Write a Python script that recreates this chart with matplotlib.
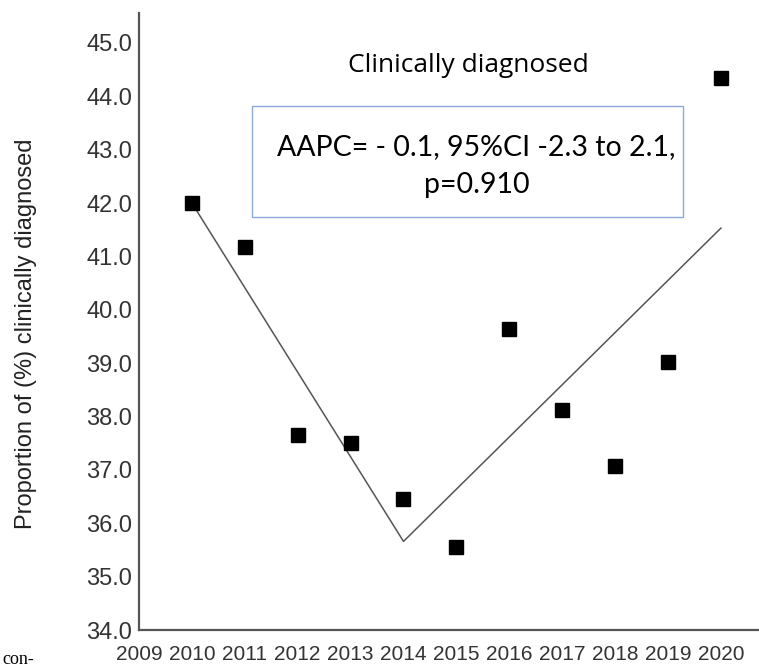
import matplotlib
matplotlib.use('Agg')
import matplotlib.pyplot as plt
from matplotlib.patches import Rectangle

# observed proportions (%) by year
years = [2010, 2011, 2012, 2013, 2014, 2015, 2016, 2017, 2018, 2019, 2020]
observed = [42.0, 41.18, 37.66, 37.5, 36.45, 35.55, 39.64, 38.13, 37.08, 39.03, 44.34]

# joinpoint model fit
fit_years = [2010, 2014, 2020]
fit_values = [42.0, 35.66, 41.53]

xticks = list(range(2009, 2021))
yticks = [34 + i for i in range(12)]

fig = plt.figure(figsize=(7.59, 6.71), dpi=100)
ax = fig.add_axes([0.1831, 0.0611, 0.8169, 0.9195])

ax.plot(fit_years, fit_values, color='#555555', linewidth=1.1)
ax.plot(years, observed, linestyle='none', marker='s', markersize=10, color='black')

ax.set_xlim(2009, 2020.72)
ax.set_ylim(34, 45.56)
ax.set_xticks(xticks)
ax.set_xticklabels([str(x) for x in xticks], fontsize=15, family='Liberation Sans', color='#333333')
ax.set_yticks(yticks)
ax.set_yticklabels(['%.1f' % y for y in yticks], fontsize=17, family='Liberation Sans', color='#333333')
ax.tick_params(axis='both', length=0)
ax.tick_params(axis='x', pad=11)
ax.tick_params(axis='y', pad=5)

for side in ['top', 'right']:
    ax.spines[side].set_visible(False)
for side in ['left', 'bottom']:
    ax.spines[side].set_color('#555555')
    ax.spines[side].set_linewidth(1.6)

fig.text(26 / 759, 1 - 334 / 671, 'Proportion of (%) clinically diagnosed', rotation=90,
         ha='center', va='center', fontsize=17, family='Liberation Sans', color='#222222')

fig.text(468 / 759, 1 - 65 / 671, 'Clinically diagnosed', ha='center', va='center',
         fontsize=19, family='Open Sans', color='black')

box = Rectangle((252 / 759, 1 - 217 / 671), (683 - 252) / 759, (217 - 106) / 671,
                transform=fig.transFigure, fill=False, edgecolor='#8eaadb', linewidth=1)
fig.add_artist(box)
fig.text(476 / 759, 1 - 147 / 671, 'AAPC= - 0.1, 95%CI -2.3 to 2.1,', ha='center', va='center',
         fontsize=20.5, family='Lato', color='black')
fig.text(477 / 759, 1 - 185 / 671, 'p=0.910', ha='center', va='center',
         fontsize=20.5, family='Lato', color='black')

fig.text(0.003, 1 - 668 / 671, 'con-', ha='left', va='bottom', fontsize=13,
         family='Liberation Serif', color='black')

fig.savefig('out.png', dpi=100)
